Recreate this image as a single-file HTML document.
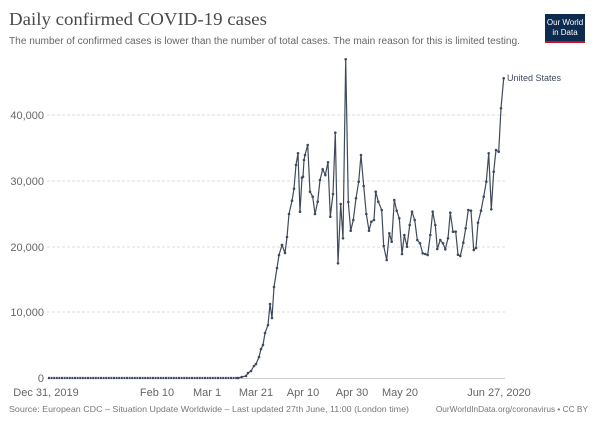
<!DOCTYPE html>
<html><head><meta charset="utf-8"><style>
html,body{margin:0;padding:0;background:#fff;width:600px;height:422px;overflow:hidden}
</style></head><body>
<svg width="600" height="422" xmlns="http://www.w3.org/2000/svg" font-family="Liberation Sans, sans-serif">
<defs><marker id="m" markerWidth="4" markerHeight="4" refX="2" refY="2" markerUnits="userSpaceOnUse"><circle cx="2" cy="2" r="1.3" fill="#3f4a5c"/></marker></defs>
<text x="9" y="25" font-family="Liberation Serif, serif" font-size="18" fill="#4a4a4a" textLength="258" lengthAdjust="spacingAndGlyphs">Daily confirmed COVID-19 cases</text>
<text x="9" y="44" font-size="10" fill="#666" textLength="511" lengthAdjust="spacingAndGlyphs">The number of confirmed cases is lower than the number of total cases. The main reason for this is limited testing.</text>
<rect x="545" y="14" width="40" height="28" fill="#0d2a4f"/>
<rect x="545" y="41" width="40" height="2" fill="#c8102e"/>
<text x="565" y="25" font-size="8" fill="#fff" text-anchor="middle">Our World</text>
<text x="565" y="35" font-size="8" fill="#fff" text-anchor="middle">in Data</text>
<g stroke="#ddd" stroke-dasharray="3,2" stroke-width="1">
<line x1="47" y1="115" x2="505" y2="115"/><line x1="47" y1="181" x2="505" y2="181"/>
<line x1="47" y1="247" x2="505" y2="247"/><line x1="47" y1="312" x2="505" y2="312"/>
</g>
<line x1="47" y1="378.5" x2="505" y2="378.5" stroke="#ccc"/>
<g font-size="11" fill="#666" text-anchor="end">
<text x="44" y="119">40,000</text><text x="44" y="185">30,000</text>
<text x="44" y="251">20,000</text><text x="44" y="316">10,000</text><text x="44" y="382">0</text>
</g>
<g font-size="11" fill="#666" text-anchor="middle">
<text x="46" y="396">Dec 31, 2019</text><text x="157" y="396">Feb 10</text><text x="207" y="396">Mar 1</text>
<text x="256" y="396">Mar 21</text><text x="303" y="396">Apr 10</text><text x="352" y="396">Apr 30</text>
<text x="400" y="396">May 20</text><text x="499" y="396">Jun 27, 2020</text>
</g>
<text x="9" y="412" font-size="8.3" fill="#777" textLength="400" lengthAdjust="spacingAndGlyphs">Source: European CDC – Situation Update Worldwide – Last updated 27th June, 11:00 (London time)</text>
<text x="588" y="412" font-size="8.3" fill="#777" text-anchor="end">OurWorldInData.org/coronavirus • CC BY</text>
<line x1="48" y1="378" x2="238" y2="378" stroke="#3f4a5c" stroke-width="2.2" stroke-dasharray="2,0.6"/>
<polyline fill="none" stroke="#3f4a5c" stroke-width="1.2" marker-start="url(#m)" marker-mid="url(#m)" marker-end="url(#m)" points="238,378 241.7,377 246,376 248,373 251,371 254,366 256,364 259,357 261,349 263,345 265,333 268,325 270,304 272,318 274,287 277,268 279,255 282,245 282,245 285,253 287,237 289,214 292,200.7 294,188.7 296,165 298,153.3 300,211.7 302,177.7 303,176.7 304,160 305,155 307.7,145 310,191.7 312.7,196.7 315,214 317.7,201.7 320,180 322.7,169.3 325.3,175 328,162.3 330.3,216.7 333,194 335.3,132.7 338,263.3 340.7,204 343,238.3 345.7,59.3 348.3,202 350.7,230.7 353.3,220 356,198.3 358.7,181.7 361,155 363.7,186 366.3,214 369,230.7 371.3,221.7 374,220 375.7,191.7 378.3,201.7 381.7,210 383.7,246 386.7,260 389.3,233.3 391.7,241.7 394.3,200 396.7,210.7 399.3,218.3 402,254 404.3,235 407,246.7 409.7,225 412,211.7 414.7,220 417.3,240 420,243.3 422.7,253.3 425.3,254 427.7,255 430.3,235 432.7,211.7 435.3,225 437.3,249 440.3,240 443,243.3 445.3,249.3 448,238.3 450.3,212.7 453,231.7 455.7,231.7 458,254.7 460.3,256 463.3,242.7 465.7,228.3 468.3,210 471,210.7 473.7,250 476,248 478,222.7 481,210.7 483.7,196.7 486.3,181.7 488.7,153.3 491.3,209.3 493.7,171.7 496,150 498.7,151.7 501,108.3 503.7,78.3"/>
<text x="507" y="81" font-size="9" fill="#3f4a5c">United States</text>
</svg>
</body></html>
